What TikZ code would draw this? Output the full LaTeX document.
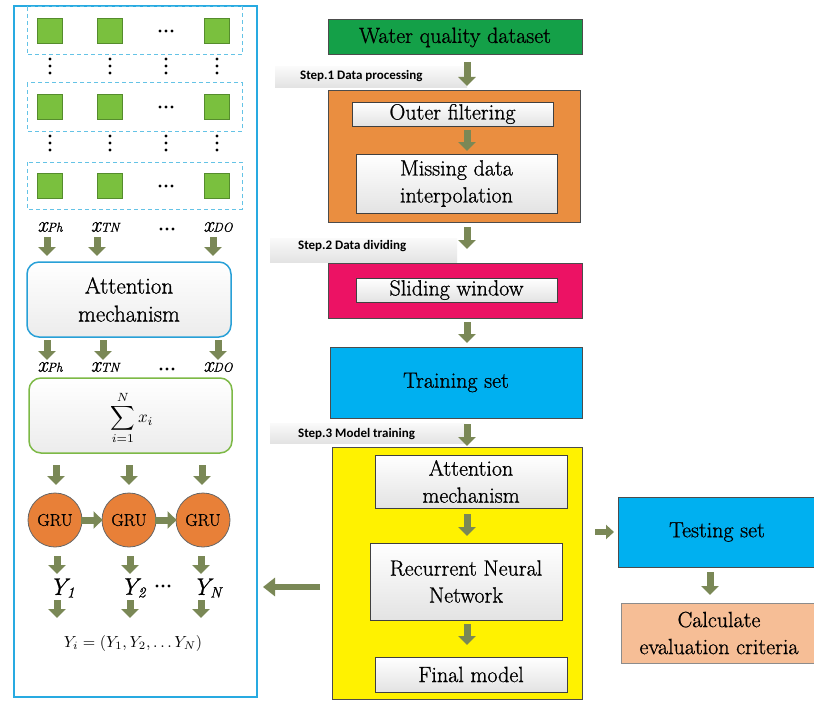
\documentclass[tikz,border=0pt]{standalone}
\usepackage{fontspec}
\setmainfont{Latin Modern Roman}[FakeBold=0.9]
\newfontfamily\stepfont{Carlito}
\usetikzlibrary{arrows.meta,calc}
\definecolor{arrowc}{RGB}{122,136,86}
\definecolor{panelblue}{RGB}{40,170,225}
\definecolor{dashblue}{RGB}{100,195,230}
\definecolor{sqgreen}{RGB}{122,192,62}
\definecolor{sqborder}{RGB}{85,140,45}
\definecolor{dsgreen}{RGB}{20,160,72}
\definecolor{orangebox}{RGB}{234,142,64}
\definecolor{pinkbox}{RGB}{236,18,100}
\definecolor{cyanbox}{RGB}{0,176,240}
\definecolor{peach}{RGB}{246,190,150}
\definecolor{gruorange}{RGB}{232,128,56}
\definecolor{sumgreen}{RGB}{125,185,70}
\definecolor{attblue}{RGB}{40,160,215}
\tikzset{
  bigtext/.style={font=\fontsize{22}{27}\selectfont},
  outbox/.style={draw=black!70, line width=1pt, inner sep=0pt, align=center, bigtext},
  inbox/.style={draw=black!75, line width=1pt, inner sep=0pt, align=center, bigtext, top color=white, bottom color=gray!22},
  barrow/.style={draw=arrowc, line width=7pt, -{Triangle[width=17pt,length=9pt]}},
  sq/.style={draw=sqborder, fill=sqgreen, minimum size=25pt, inner sep=0pt, line width=0.8pt},
  rowbox/.style={draw=dashblue, dash pattern=on 4pt off 3pt, line width=1pt},
  xlab/.style={font=\fontsize{22}{22}\selectfont, inner sep=0pt},
  ylab/.style={font=\fontsize{24}{24}\selectfont, inner sep=0pt},
  band/.style={top color=gray!4, bottom color=gray!22, draw=none},
  steptext/.style={font=\stepfont\bfseries\fontsize{13}{13}\selectfont, anchor=west, inner sep=0pt},
  gru/.style={circle, draw=black!60, fill=gruorange, line width=0.8pt, minimum size=54pt, inner sep=0pt, font=\fontsize{17}{17}\selectfont},
  rbox/.style={rounded corners=12pt, line width=1.5pt, inner sep=0pt, align=center, top color=white, bottom color=gray!15}
}
\newcommand{\xl}[2]{{\itshape #1}{\fontsize{13}{13}\selectfont\itshape #2}}
\newcommand{\yl}[2]{{\itshape #1}\raisebox{-0.25ex}{\fontsize{15}{15}\selectfont\itshape #2}}
\begin{document}
\begin{tikzpicture}[x=1pt,y=-1pt]
\useasboundingbox (0,0) rectangle (814,701);
\fill[white] (0,0) rectangle (814,701);

% ---------- left panel ----------
\draw[panelblue, line width=2pt] (14,6) rectangle (257,697);
\draw[rowbox] (27,7) rectangle (242,55);
\draw[rowbox] (27,83) rectangle (242,131);
\draw[rowbox] (27,162) rectangle (242,209);
\foreach \r/\yy in {1/31,2/107,3/186}{
  \node[sq] (s\r a) at (50,\yy) {};
  \node[sq] (s\r b) at (110,\yy) {};
  \node[sq] (s\r c) at (217,\yy) {};
  \foreach \dx in {-6,0,6} \fill (166+\dx,\yy) circle (1.7);
}
\foreach \xx in {50,110,166,217}{
  \foreach \yy in {59,66,73,136,143,150} \fill (\xx,\yy) circle (1.7);
}
% input labels
\node[xlab] (xph1) at (50,227) {\xl{x}{Ph}};
\node[xlab] (xtn1) at (105,227) {\xl{x}{TN}};
\foreach \dx in {-6,0,6} \fill (167+\dx,229) circle (1.7);
\node[xlab] (xdo1) at (218,227) {\xl{x}{DO}};
\foreach \xx/\n in {47/a,97/b,213/c}{
  \coordinate (ra\n) at (\xx,237); \coordinate (rb\n) at (\xx,256);
  \draw[barrow] (ra\n) -- (rb\n);
}
\node[rbox, draw=attblue, minimum width=204pt, minimum height=75pt, font=\fontsize{23}{28}\selectfont] (attL) at (129,299.5) {Attention\\mechanism};
\foreach \xx/\n in {47/a,103/b,218/c}{
  \coordinate (qa\n) at (\xx,340); \coordinate (qb\n) at (\xx,360);
  \draw[barrow] (qa\n) -- (qb\n);
}
\node[xlab] (xph2) at (50,367) {\xl{x}{Ph}};
\node[xlab] (xtn2) at (105,367) {\xl{x}{TN}};
\foreach \dx in {-6,0,6} \fill (167+\dx,369) circle (1.7);
\node[xlab] (xdo2) at (218,367) {\xl{x}{DO}};
\node[rbox, draw=sumgreen, minimum width=203pt, minimum height=75pt] (sumL) at (130.5,415.5) {};
\node[inner sep=0pt] (sumtxt) at (132,418) {\scalebox{1.7}{$\displaystyle\sum_{i=1}^{N} x_i$}};
\foreach \xx/\n in {56/a,129/b,202/c}{
  \coordinate (pa\n) at (\xx,465); \coordinate (pb\n) at (\xx,485);
  \draw[barrow] (pa\n) -- (pb\n);
}
\node[gru] (g1) at (55,520) {GRU};
\node[gru] (g2) at (129,520) {GRU};
\node[gru] (g3) at (203,520) {GRU};
\draw[barrow, shorten <=-1pt, shorten >=-1pt] (g1) -- (g2);
\draw[barrow, shorten <=-1pt, shorten >=-1pt] (g2) -- (g3);
\foreach \xx/\n in {57/a,130/b,201/c}{
  \coordinate (oa\n) at (\xx,556); \coordinate (ob\n) at (\xx,574);
  \draw[barrow] (oa\n) -- (ob\n);
  \coordinate (na\n) at (\xx,600); \coordinate (nb\n) at (\xx,618);
  \draw[barrow] (na\n) -- (nb\n);
}
\node[ylab] (y1) at (62,588) {\yl{Y}{1}};
\node[ylab] (y2) at (133,588) {\yl{Y}{2}};
\foreach \dx in {-6,0,6} \fill (163+\dx,586) circle (1.7);
\node[ylab] (yn) at (207,588) {\yl{Y}{N}};
\node[inner sep=0pt] (yform) at (133,643) {\scalebox{1.6}{$Y_i=(Y_1,Y_2,\ldots Y_N)$}};

% ---------- right flow ----------
\node[outbox, fill=dsgreen, minimum width=254pt, minimum height=35pt] (wq) at (455,37.5) {Water quality dataset};
\fill[band] (275,67) rectangle (467,87);
\node[steptext] (st1) at (300,76) {Step.1 Data processing};
\coordinate (s1a) at (467,62); \coordinate (s1b) at (467,86);
\draw[barrow] (s1a) -- (s1b);

\node[outbox, fill=orangebox, minimum width=252pt, minimum height=132pt] (orb) at (454,156) {};
\node[inbox, minimum width=201pt, minimum height=24pt] (outer) at (452.5,114) {Outer filtering};
\node[inbox, minimum width=201pt, minimum height=59pt] (miss) at (456.5,183.5) {Missing data\\interpolation};
\coordinate (o1a) at (467,130); \coordinate (o1b) at (467,151);
\draw[barrow] (o1a) -- (o1b);

\fill[band] (270,238) rectangle (457,262);
\node[steptext] (st2) at (298,246) {Step.2 Data dividing};
\coordinate (s2a) at (467,227); \coordinate (s2b) at (467,249);
\draw[barrow] (s2a) -- (s2b);

\node[outbox, fill=pinkbox, minimum width=254pt, minimum height=55pt] (pink) at (455,290.5) {};
\node[inbox, minimum width=201pt, minimum height=24pt] (slide) at (456.5,290) {Sliding window};
\coordinate (t1a) at (467,322); \coordinate (t1b) at (467,343);
\draw[barrow] (t1a) -- (t1b);

\node[outbox, fill=cyanbox, minimum width=252pt, minimum height=71pt] (train) at (456,382.5) {Training set};

\fill[band] (270,423) rectangle (465,443);
\node[steptext] (st3) at (298,434) {Step.3 Model training};
\coordinate (s3a) at (467,424); \coordinate (s3b) at (467,446);
\draw[barrow] (s3a) -- (s3b);

\node[outbox, fill=yellow, minimum width=250pt, minimum height=252pt] (yel) at (457,573) {};
\node[inbox, minimum width=192pt, minimum height=53pt] (att2) at (471,481.5) {Attention\\mechanism};
\node[inbox, minimum width=192pt, minimum height=77pt] (rnn) at (466,581.5) {Recurrent Neural\\Network};
\node[inbox, minimum width=192pt, minimum height=35pt] (final) at (471,674.5) {Final model};
\coordinate (y1a) at (467,514); \coordinate (y1b) at (467,536);
\draw[barrow] (y1a) -- (y1b);
\coordinate (y2a) at (467,624); \coordinate (y2b) at (467,645);
\draw[barrow] (y2a) -- (y2b);

\coordinate (la) at (320,587); \coordinate (lb) at (263,587);
\draw[barrow, line width=6pt, -{Triangle[width=18pt,length=12pt]}] (la) -- (lb);

\node[outbox, fill=cyanbox, minimum width=198pt, minimum height=70pt] (test) at (717,532) {Testing set};
\node[outbox, draw=black!45, fill=peach, minimum width=196pt, minimum height=60pt] (calc) at (719,633) {Calculate\\evaluation criteria};
\coordinate (ta) at (595,532); \coordinate (tb) at (614,532);
\draw[barrow, line width=6pt, -{Triangle[width=14pt,length=8pt]}] (ta) -- (tb);
\coordinate (da) at (710,572); \coordinate (db) at (710,595);
\draw[barrow] (da) -- (db);
\end{tikzpicture}
\end{document}
